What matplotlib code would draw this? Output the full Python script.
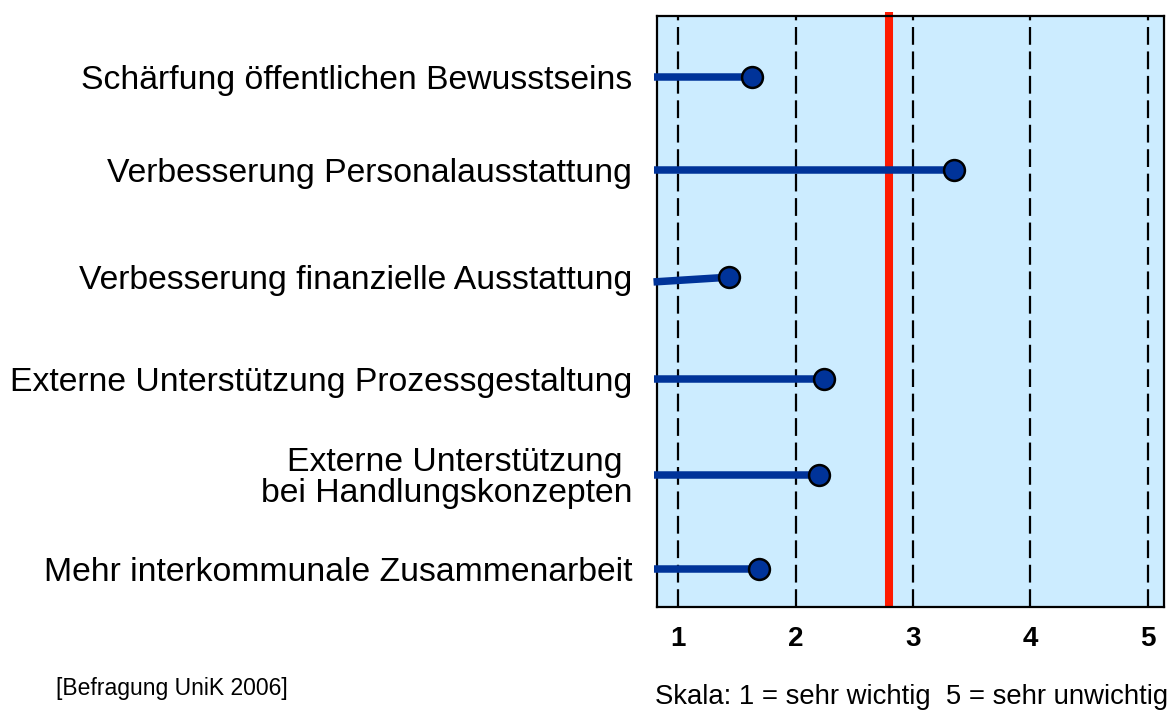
import matplotlib.pyplot as plt

plt.rcParams['font.family'] = ['Liberation Sans', 'DejaVu Sans']

# data
labels = ["Schärfung öffentlichen Bewusstseins",
          "Verbesserung Personalausstattung",
          "Verbesserung finanzielle Ausstattung",
          "Externe Unterstützung Prozessgestaltung",
          "Externe Unterstützung \nbei Handlungskonzepten",
          "Mehr interkommunale Zusammenarbeit"]
values = [1.63, 3.35, 1.43, 2.24, 2.20, 1.69]
mean_value = 2.80
ticks = [1, 2, 3, 4, 5]

# layout (row centres, axes runs 0 at top .. 100 at bottom)
row_pos = [10.4, 26.0, 44.2, 61.4, 77.6, 93.5]
start_shift = [0, 0, 0.8, 0, 0, 0]

fig = plt.figure(figsize=(11.76, 7.16), dpi=100)
ax = fig.add_axes([0.5587, 0.1522, 0.4311, 0.8255])
ax.set_facecolor('#CCECFF')
ax.set_xlim(0.82, 5.14)
ax.set_ylim(100, 0)

for t in ticks:
    ax.axvline(t, color='black', lw=1.6, ls=(0, (8, 3)), zorder=1)

ax.plot([mean_value, mean_value], [-0.7, 100], color='#FF1A00', lw=5.8,
        solid_capstyle='butt', clip_on=False, zorder=2)

for y, v, s in zip(row_pos, values, start_shift):
    ax.plot([0.79, v], [y + s, y], color='#003399', lw=5.4,
            solid_capstyle='butt', clip_on=False, zorder=3)
    ax.plot(v, y, 'o', ms=15, mfc='#003399', mec='black', mew=1.8, zorder=4)

ax.set_yticks(row_pos)
ax.set_yticklabels(labels, fontsize=24.3, linespacing=0.98)
ax.tick_params(axis='y', length=0, pad=18)
for lab in ax.get_yticklabels():
    lab.set_horizontalalignment('right')

ax.set_xticks(ticks)
ax.set_xticklabels([str(t) for t in ticks], fontsize=20, fontweight='bold')
ax.tick_params(axis='x', length=0, pad=14)

for sp in ax.spines.values():
    sp.set_linewidth(1.6)

fig.text(0.9932, 0.008, "Skala: 1 = sehr wichtig  5 = sehr unwichtig",
         ha='right', va='bottom', fontsize=19.8)
fig.text(0.048, 0.022, "[Befragung UniK 2006]", ha='left', va='bottom', fontsize=16.5)

fig.savefig('out.png', dpi=100)
